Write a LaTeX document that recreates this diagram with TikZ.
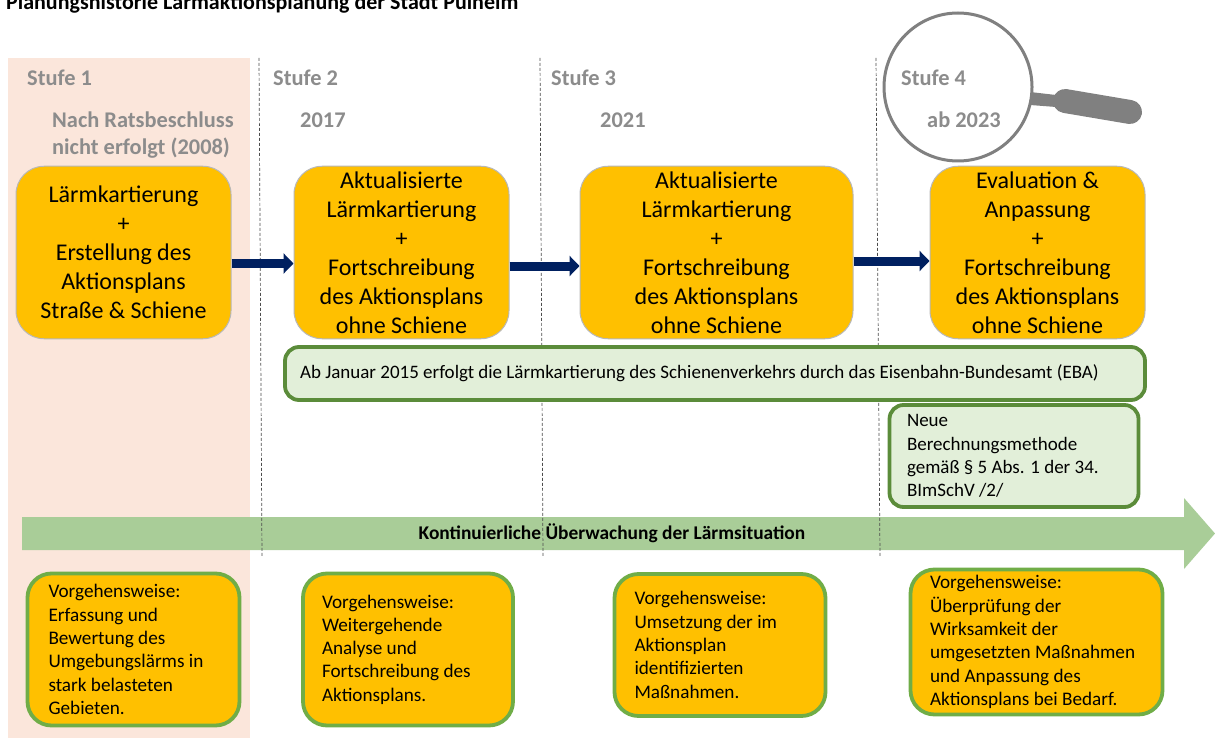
\documentclass[tikz,border=0pt]{standalone}
\usepackage{fontspec}
\setmainfont{Carlito}
\usetikzlibrary{arrows.meta,positioning}
\definecolor{amber}{HTML}{FFC000}
\definecolor{peach}{HTML}{FBE6DB}
\definecolor{dgreen}{HTML}{5B8C3A}
\definecolor{lgreen}{HTML}{E2EFD9}
\definecolor{mgreen}{HTML}{70AD47}
\definecolor{bandg}{HTML}{A9CD98}
\definecolor{greytxt}{HTML}{8C8C8C}
\definecolor{navy}{HTML}{002060}
\tikzset{
 px/.style={x=1pt,y=-1pt},
 plan/.style={draw=black!28,line width=1pt,fill=amber,rounded corners=28pt,align=center,inner sep=0pt,font=\fontsize{24}{29}\selectfont,text=black},
 how/.style={draw=mgreen,line width=3.8pt,fill=amber,rounded corners=24pt,align=flush left,inner sep=0pt,font=\fontsize{19.2}{23.3}\selectfont,text=black},
 note/.style={draw=dgreen,line width=3.8pt,fill=lgreen,rounded corners=14pt,align=flush left,inner sep=0pt,font=\fontsize{19}{23.3}\selectfont,text=black},
 stage/.style={anchor=base west,inner sep=0pt,text=greytxt,font=\fontsize{22.4}{27}\bfseries\selectfont,align=flush left},
 divider/.style={densely dashed,line width=.7pt,black!70},
 flow/.style={draw=navy,line width=9pt,-{Triangle[length=10pt,width=20pt]}},
}
\begin{document}
\begin{tikzpicture}[px]
\useasboundingbox (0,0) rectangle (1215,738);
\clip (0,0) rectangle (1215,738);
\fill[white] (0,0) rectangle (1215,738);
\fill[peach] (8,58) rectangle (250,738);
\node[anchor=base west,inner sep=0pt,font=\fontsize{22}{25}\bfseries\selectfont] (title) at (6,9.5) {Planungshistorie Lärmaktionsplanung der Stadt Pulheim};
% band
\fill[bandg] (22,517) -- (1184,517) -- (1184,498) -- (1215,533.5) -- (1184,569) -- (1184,550) -- (22,550) -- cycle;
\node[inner sep=0pt,font=\fontsize{19.4}{22}\bfseries\selectfont] (band) at (612,533.5) {Kontinuierliche Überwachung der Lärmsituation};
% dividers
\coordinate (d1a) at (259,58); \coordinate (d1b) at (262,557);
\coordinate (d2a) at (540,58); \coordinate (d2b) at (543,557);
\coordinate (d3a) at (876,58); \coordinate (d3b) at (880,557);
\draw[divider] (d1a) -- (d1b);
\draw[divider] (d2a) -- (d2b);
\draw[divider] (d3a) -- (d3b);
% magnifier
\fill[black!50] (1030,92) -- (1056,95) -- (1056,107) -- (1030,105) -- cycle;
\draw[black!50,line width=24pt,line cap=round] (1065,101) -- (1130,112);
\draw[black!50,line width=3pt,fill=white] (958,87) circle (74);
% stage labels
\node[stage] (s1) at (27,86) {Stufe 1};
\node[stage] (s2) at (273,86) {Stufe 2};
\node[stage] (s3) at (551,86) {Stufe 3};
\node[stage] (s4) at (901,86) {Stufe 4};
\node[stage] (y1) at (52,155) {Nach Ratsbeschluss\\nicht erfolgt (2008)};
\node[stage] (y2) at (300,128) {2017};
\node[stage] (y3) at (600,128) {2021};
\node[stage] (y4) at (927,128) {ab 2023};
% plan boxes
\node[plan,minimum width=215pt,minimum height=172.5pt] (p1) at (123.5,252.5) {Lärmkartierung\\+\\Erstellung des\\Aktionsplans\\Straße \& Schiene};
\node[plan,minimum width=215pt,minimum height=172.5pt] (p2) at (401.5,252.5) {Aktualisierte\\Lärmkartierung\\+\\Fortschreibung\\des Aktionsplans\\ohne Schiene};
\node[plan,minimum width=273pt,minimum height=172.5pt] (p3) at (716.5,252.5) {Aktualisierte\\Lärmkartierung\\+\\Fortschreibung\\des Aktionsplans\\ohne Schiene};
\node[plan,minimum width=215pt,minimum height=172.5pt] (p4) at (1037.5,252.5) {Evaluation \&\\Anpassung\\+\\Fortschreibung\\des Aktionsplans\\ohne Schiene};
% arrows
\draw[flow] (p1.east |- 0,263.5) -- (p2.west |- 0,263.5);
\draw[flow] (p2.east |- 0,266) -- (p3.west |- 0,266);
\draw[flow] (p3.east |- 0,261) -- (p4.west |- 0,261);
% notes
\node[note,minimum width=860pt,minimum height=53pt,text width=830pt] (n1) at (715,373.5) {Ab Januar 2015 erfolgt die Lärmkartierung des Schienenverkehrs durch das Eisenbahn-Bundesamt (EBA)};
\node[note,minimum width=249pt,minimum height=102pt,text width=214pt] (n2) at (1014,456) {Neue\\Berechnungsmethode\\gemäß § 5 Abs. 1 der 34.\\BImSchV /2/};
% how boxes
\node[how,minimum width=212pt,minimum height=152pt,text width=170pt] (h1) at (133.5,649.5) {Vorgehensweise:\\Erfassung und\\Bewertung des\\Umgebungslärms in\\stark belasteten\\Gebieten.};
\node[how,minimum width=210pt,minimum height=152pt,text width=172pt] (h2) at (408,649.5) {Vorgehensweise:\\Weitergehende\\Analyse und\\Fortschreibung des\\Aktionsplans.};
\node[how,minimum width=211pt,minimum height=142pt,text width=171pt] (h3) at (720,645) {Vorgehensweise:\\Umsetzung der im\\Aktionsplan\\identifizierten\\Maßnahmen.};
\node[how,minimum width=252pt,minimum height=145pt,text width=213pt] (h4) at (1036.5,642) {Vorgehensweise:\\Überprüfung der\\Wirksamkeit der\\umgesetzten Maßnahmen\\und Anpassung des\\Aktionsplans bei Bedarf.};
\end{tikzpicture}
\end{document}
